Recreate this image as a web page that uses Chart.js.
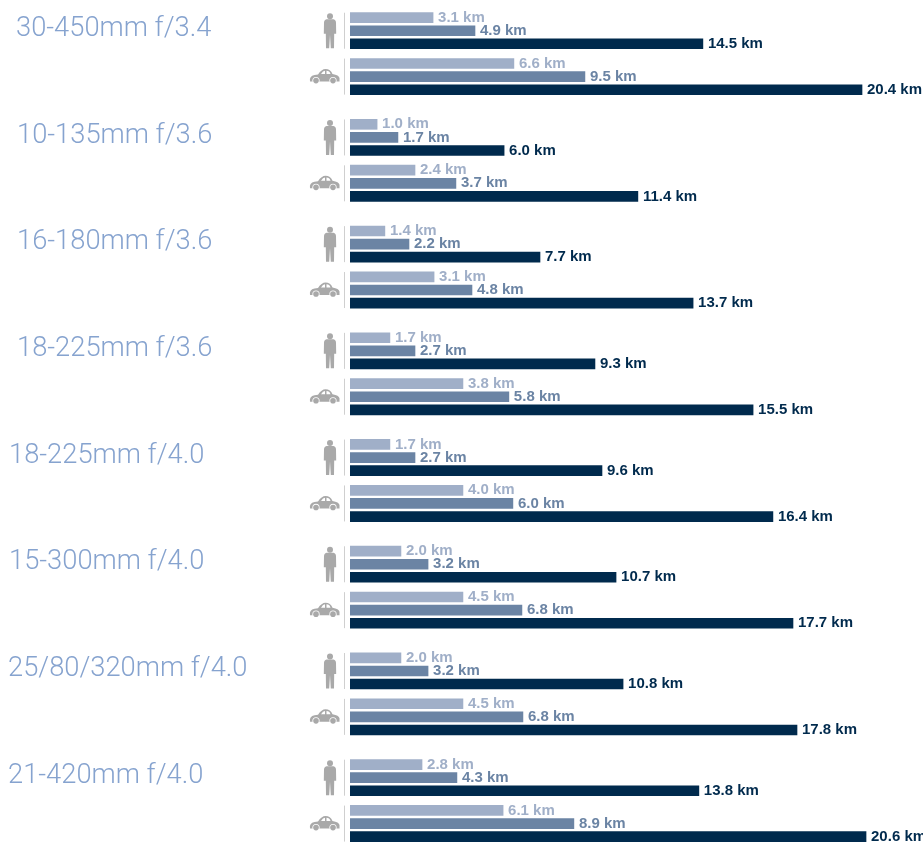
<!DOCTYPE html>
<html>
<head>
<meta charset="utf-8">
<style>
  html, body { margin: 0; padding: 0; background: #fff; }
  #wrap { width: 923px; height: 843px; position: relative; overflow: hidden; }
</style>
<script src="https://cdn.jsdelivr.net/npm/chart.js@4/dist/chart.umd.min.js"></script>
</head>
<body>
<div id="wrap"><canvas id="rangeChart"></canvas></div>
<script>
const lenses = ['30-450mm f/3.4', '10-135mm f/3.6', '16-180mm f/3.6', '18-225mm f/3.6',
  '18-225mm f/4.0', '15-300mm f/4.0', '25/80/320mm f/4.0', '21-420mm f/4.0'];

// each list runs person, car, person, car... for the lenses in order
const lightLabels = ['3.1', '6.6', '1.0', '2.4', '1.4', '3.1', '1.7', '3.8', '1.7', '4.0', '2.0', '4.5', '2.0', '4.5', '2.8', '6.1'];
const midLabels = ['4.9', '9.5', '1.7', '3.7', '2.2', '4.8', '2.7', '5.8', '2.7', '6.0', '3.2', '6.8', '3.2', '6.8', '4.3', '8.9'];
const darkLabels = ['14.5', '20.4', '6.0', '11.4', '7.7', '13.7', '9.3', '15.5', '9.6', '16.4', '10.7', '17.7', '10.8', '17.8', '13.8', '20.6'];

// bar lengths; the printed figures don't sit on one scale
const lightBars = [3.31, 6.53, 1.08, 2.59, 1.39, 3.35, 1.59, 4.50, 1.59, 4.50, 2.03, 4.50, 2.03, 4.50, 2.87, 6.10];
const midBars = [4.98, 9.36, 1.91, 4.22, 2.35, 4.86, 2.59, 6.33, 2.59, 6.49, 3.11, 6.85, 3.11, 6.89, 4.26, 8.92];
const darkBars = [14.06, 20.40, 6.14, 11.47, 7.57, 13.67, 9.76, 16.06, 10.04, 16.85, 10.60, 17.65, 10.88, 17.81, 13.90, 20.56];

const LIGHT = '#a0afc8';
const MID = '#6b84a4';
const DARK = '#002a4d';
const ICON = '#a9a9a9';

// row offset inside one lens block, in lens units
const rowOffset = [[0, 0.123, 0.245], [0.43, 0.553, 0.676]];
const lensIndent = [16, 17, 17, 17, 9, 9, 8, 8];

function rowData(bars, tone) {
  return bars.map((v, i) => ({
    x: v,
    y: Math.floor(i / 2) + rowOffset[i % 2][tone],
  }));
}

function drawPerson(ctx, cx, cy) {
  ctx.save();
  ctx.translate(cx, cy);
  ctx.fillStyle = ICON;
  ctx.beginPath();
  ctx.arc(0, -14.5, 3, 0, Math.PI * 2);
  ctx.fill();
  ctx.beginPath();
  ctx.moveTo(-3.5, -11.5);
  ctx.lineTo(3.5, -11.5);
  ctx.quadraticCurveTo(6, -11, 6, -8);
  ctx.lineTo(6.2, 3);
  ctx.lineTo(4.2, 3);
  ctx.lineTo(4, 17.5);
  ctx.lineTo(0.8, 17.5);
  ctx.lineTo(0, 4);
  ctx.lineTo(-0.8, 17.5);
  ctx.lineTo(-4, 17.5);
  ctx.lineTo(-4.2, 3);
  ctx.lineTo(-6.2, 3);
  ctx.lineTo(-6, -8);
  ctx.quadraticCurveTo(-6, -11, -3.5, -11.5);
  ctx.closePath();
  ctx.fill();
  ctx.restore();
}

function drawCar(ctx, cx, cy) {
  ctx.save();
  ctx.translate(cx, cy);
  ctx.fillStyle = ICON;
  ctx.beginPath();
  ctx.moveTo(-14.5, 5);
  ctx.quadraticCurveTo(-15.5, -0.5, -10, -1.5);
  ctx.lineTo(-6.5, -2);
  ctx.quadraticCurveTo(-3, -7.5, 1, -7.5);
  ctx.quadraticCurveTo(6, -7.5, 8, -2.5);
  ctx.quadraticCurveTo(14.5, -1.5, 15, 1.5);
  ctx.lineTo(15, 5);
  ctx.closePath();
  ctx.fill();
  ctx.fillStyle = '#fff';
  ctx.beginPath();
  ctx.moveTo(-3.5, -2.5);
  ctx.quadraticCurveTo(-1.5, -5.8, 0.5, -5.8);
  ctx.lineTo(0.5, -2.5);
  ctx.closePath();
  ctx.moveTo(2, -5.8);
  ctx.quadraticCurveTo(5, -5.8, 6, -2.5);
  ctx.lineTo(2, -2.5);
  ctx.closePath();
  ctx.fill();
  [-8.5, 8.5].forEach(dx => {
    ctx.fillStyle = '#fff';
    ctx.beginPath();
    ctx.arc(dx, 4, 3.6, 0, Math.PI * 2);
    ctx.fill();
    ctx.fillStyle = ICON;
    ctx.beginPath();
    ctx.arc(dx, 4, 2.8, 0, Math.PI * 2);
    ctx.fill();
  });
  ctx.restore();
}

const annotations = {
  id: 'annotations',
  afterDatasetsDraw(chart) {
    const ctx = chart.ctx;
    const yScale = chart.scales.y;

    // km labels at the bar ends
    ctx.save();
    ctx.font = 'bold 15px "Liberation Sans", sans-serif';
    ctx.textBaseline = 'middle';
    ctx.textAlign = 'left';
    chart.data.datasets.forEach((ds, d) => {
      ctx.fillStyle = ds.backgroundColor;
      chart.getDatasetMeta(d).data.forEach((bar, i) => {
        ctx.fillText(ds.valueLabels[i] + ' km', bar.x + 5, bar.y);
      });
    });
    ctx.restore();

    // lens names, icons and dividers
    lenses.forEach((name, l) => {
      ctx.save();
      ctx.font = '300 27.3px Roboto, "Liberation Sans", sans-serif';
      ctx.fillStyle = '#86a3cf';
      ctx.textBaseline = 'middle';
      ctx.fillText(name, lensIndent[l], yScale.getPixelForValue(l + 0.107));
      ctx.restore();

      ctx.strokeStyle = '#cfcfcf';
      ctx.lineWidth = 1;
      rowOffset.forEach((rows, k) => {
        const mid = yScale.getPixelForValue(l + rows[1]);
        ctx.beginPath();
        ctx.moveTo(344.5, mid - 18);
        ctx.lineTo(344.5, mid + 18);
        ctx.stroke();
        if (k === 0) drawPerson(ctx, 330, mid);
        else drawCar(ctx, 324.5, mid);
      });
    });
  },
};

function tone(label, color, bars, labels, index) {
  return {
    label,
    data: rowData(bars, index),
    valueLabels: labels,
    backgroundColor: color,
    barThickness: 10,
    grouped: false,
  };
}

new Chart(document.getElementById('rangeChart'), {
  type: 'bar',
  data: {
    datasets: [
      tone('Light', LIGHT, lightBars, lightLabels, 0),
      tone('Mid', MID, midBars, midLabels, 1),
      tone('Dark', DARK, darkBars, darkLabels, 2),
    ],
  },
  plugins: [annotations],
  options: {
    indexAxis: 'y',
    responsive: true,
    maintainAspectRatio: false,
    animation: false,
    layout: { padding: { left: 350 } },
    plugins: { legend: { display: false }, tooltip: { enabled: false } },
    scales: {
      x: { type: 'linear', display: false, min: 0, max: 22.83 },
      y: { type: 'linear', display: false, offset: false, reverse: true, min: -0.165, max: 7.735 },
    },
  },
});
</script>
</body>
</html>
